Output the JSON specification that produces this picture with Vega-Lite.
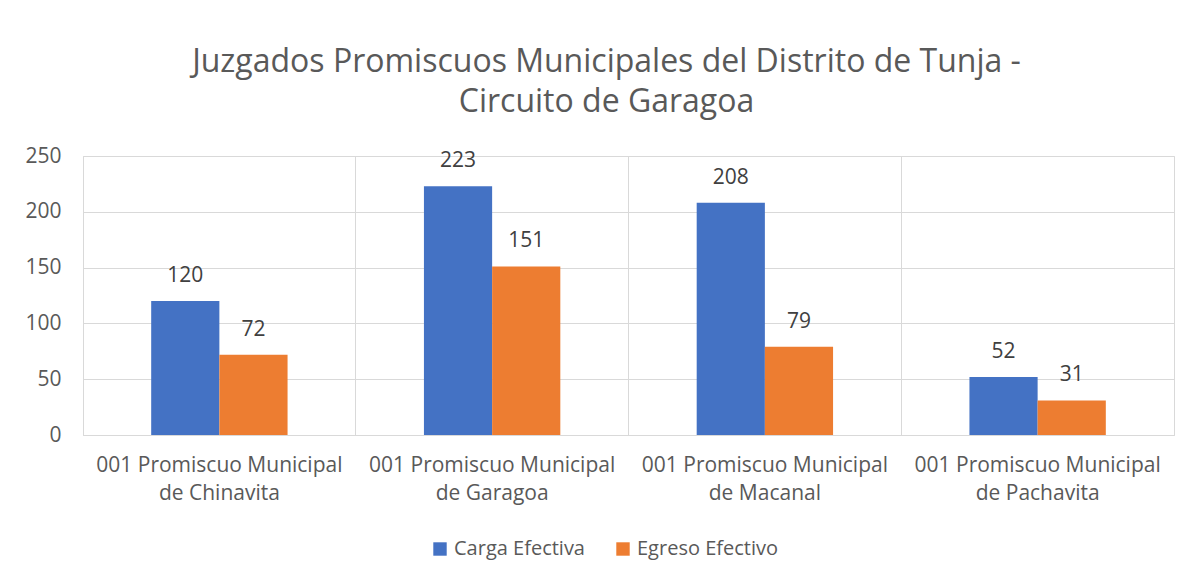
{
  "$schema": "https://vega.github.io/schema/vega-lite/v6.json",
  "width": 1091,
  "height": 279,
  "autosize": {"type": "none"},
  "padding": {"left": 83, "top": 156, "right": 20, "bottom": 145},
  "background": "white",
  "title": {
    "text": ["Juzgados Promiscuos Municipales del Distrito de Tunja -", "Circuito de Garagoa"],
    "font": "Open Sans",
    "fontSize": 32,
    "fontWeight": "normal",
    "color": "#595959",
    "lineHeight": 40,
    "anchor": "middle",
    "frame": "group",
    "dx": -22,
    "offset": 26
  },
  "data": {
    "values": [
      {"juzgado": "001 Promiscuo Municipal de Chinavita", "serie": "Carga Efectiva", "valor": 120},
      {"juzgado": "001 Promiscuo Municipal de Chinavita", "serie": "Egreso Efectivo", "valor": 72},
      {"juzgado": "001 Promiscuo Municipal de Garagoa", "serie": "Carga Efectiva", "valor": 223},
      {"juzgado": "001 Promiscuo Municipal de Garagoa", "serie": "Egreso Efectivo", "valor": 151},
      {"juzgado": "001 Promiscuo Municipal de Macanal", "serie": "Carga Efectiva", "valor": 208},
      {"juzgado": "001 Promiscuo Municipal de Macanal", "serie": "Egreso Efectivo", "valor": 79},
      {"juzgado": "001 Promiscuo Municipal de Pachavita", "serie": "Carga Efectiva", "valor": 52},
      {"juzgado": "001 Promiscuo Municipal de Pachavita", "serie": "Egreso Efectivo", "valor": 31}
    ]
  },
  "encoding": {
    "x": {
      "field": "juzgado",
      "type": "nominal",
      "sort": null,
      "scale": {"paddingInner": 0, "paddingOuter": 0},
      "axis": {
        "title": null,
        "labelAngle": 0,
        "labelFont": "Open Sans",
        "labelFontSize": 21,
        "labelColor": "#595959",
        "labelLimit": 0,
        "labelExpr": "['001 Promiscuo Municipal', replace(datum.label, '001 Promiscuo Municipal ', '')]",
        "labelLineHeight": 28,
        "labelPadding": 19,
        "ticks": false,
        "domain": true,
        "domainColor": "#D9D9D9",
        "grid": true,
        "gridColor": "#D9D9D9",
        "bandPosition": 0
      }
    },
    "xOffset": {
      "field": "serie",
      "type": "nominal",
      "scale": {"paddingInner": 0, "paddingOuter": 1}
    },
    "y": {
      "field": "valor",
      "type": "quantitative",
      "scale": {"domain": [0, 250]},
      "axis": {
        "title": null,
        "values": [0, 50, 100, 150, 200, 250],
        "labelFont": "Open Sans",
        "labelFontSize": 21,
        "labelColor": "#595959",
        "labelPadding": 22,
        "ticks": false,
        "domain": false,
        "grid": true,
        "gridColor": "#D9D9D9"
      }
    }
  },
  "layer": [
    {
      "mark": {"type": "bar"},
      "encoding": {
        "color": {
          "field": "serie",
          "type": "nominal",
          "scale": {"domain": ["Carga Efectiva", "Egreso Efectivo"], "range": ["#4472C4", "#ED7D31"]},
          "legend": {
            "title": null,
            "orient": "none",
            "legendX": 347,
            "legendY": 383,
            "direction": "horizontal",
            "symbolType": "square",
            "symbolSize": 180,
            "symbolStrokeWidth": 0,
            "labelFont": "Open Sans",
            "labelFontSize": 20,
            "labelColor": "#595959",
            "columnPadding": 28
          }
        }
      }
    },
    {
      "mark": {"type": "text", "baseline": "middle", "dy": -25, "font": "Open Sans", "fontSize": 21, "color": "#404040"},
      "encoding": {"text": {"field": "valor", "type": "quantitative"}}
    }
  ],
  "config": {
    "view": {"stroke": "#D9D9D9"}
  }
}
